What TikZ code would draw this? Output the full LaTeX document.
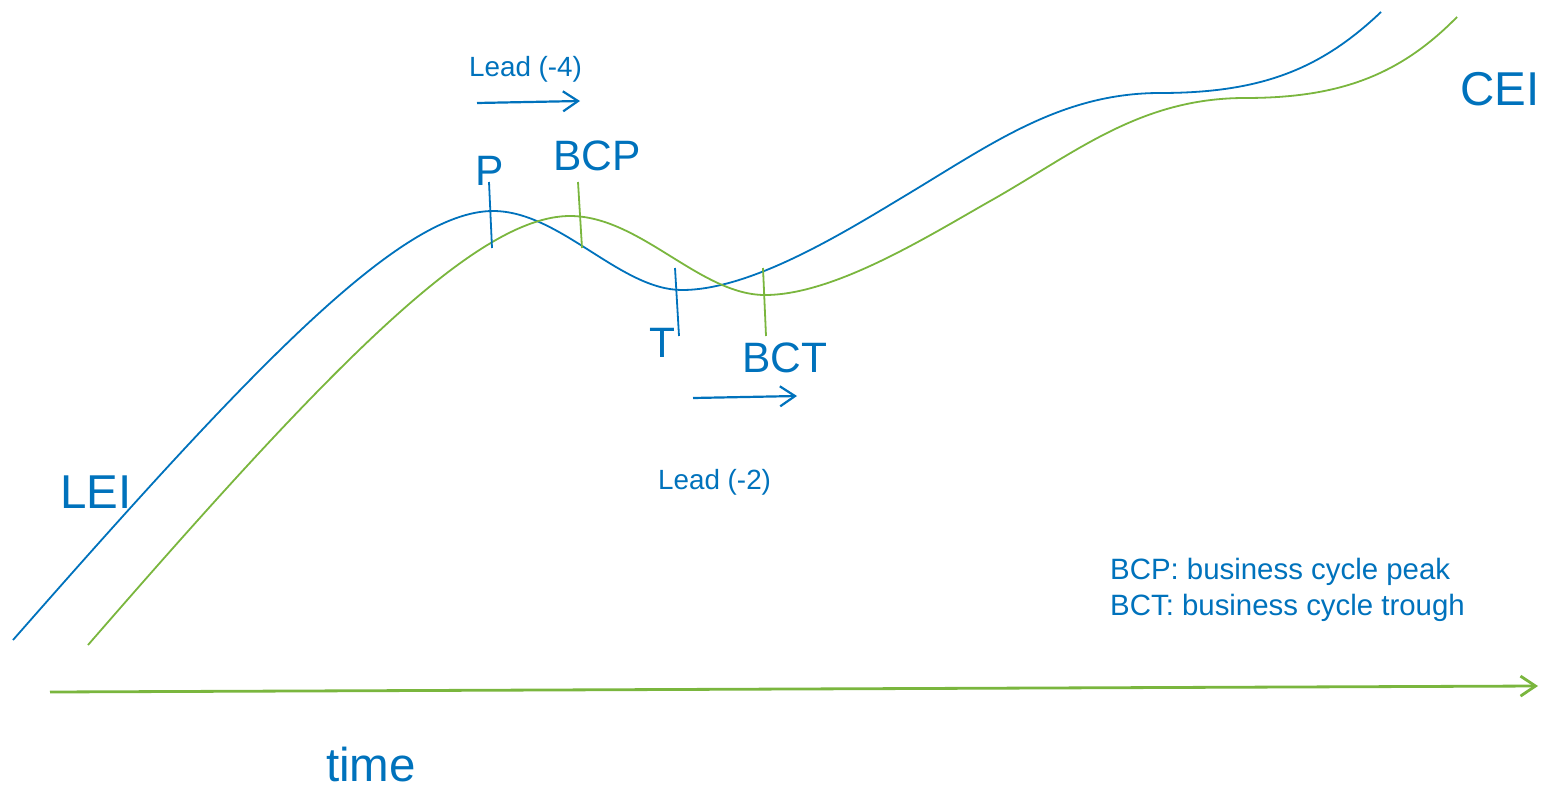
\documentclass[tikz,border=0pt]{standalone}
\usepackage{fontspec}
\setmainfont{Liberation Sans}
\usetikzlibrary{arrows.meta}
\definecolor{ublue}{RGB}{0,114,188}
\definecolor{ugreen}{RGB}{122,182,62}
\tikzset{
  curve/.style={line width=1.8pt, line join=round},
  tick/.style={line width=1.8pt},
  leadarrow/.style={ublue, line width=2.2pt, -{Straight Barb[length=15pt, width=20pt, line width=2.2pt]}},
  axisarrow/.style={ugreen, line width=2.8pt, -{Straight Barb[length=15pt, width=20pt, line width=2.8pt]}},
  lbl/.style={ublue, inner sep=0pt, anchor=base west},
  big/.style={lbl, font=\fontsize{47.5}{56}\selectfont},
  mid/.style={lbl, font=\fontsize{42.5}{50}\selectfont},
  small/.style={lbl, font=\fontsize{27.8}{33}\selectfont},
  legend/.style={lbl, font=\fontsize{29.4}{36}\selectfont}
}
\begin{document}
\begin{tikzpicture}[x=1pt, y=-1pt]
\useasboundingbox (0,0) rectangle (1546,789);
% LEI curve (blue)
\draw[curve, ublue] (13,640) .. controls (250,370) and (400,211) .. (493,211)
  .. controls (560,211) and (620,290) .. (682,290)
  .. controls (750,290) and (840,235) .. (903,197)
  .. controls (990,145) and (1060,93) .. (1160,93)
  .. controls (1260,93) and (1320,70) .. (1381,12);
% CEI curve (green)
\draw[curve, ugreen] (88,645) .. controls (325,372) and (475,216) .. (570,216)
  .. controls (640,216) and (700,295) .. (765,295)
  .. controls (835,295) and (930,235) .. (992,200)
  .. controls (1075,153) and (1140,98) .. (1245,98)
  .. controls (1340,98) and (1400,75) .. (1457,17);
% ticks
\coordinate (pA) at (489,182); \coordinate (pB) at (492,248);
\coordinate (bcpA) at (578,182); \coordinate (bcpB) at (582,248);
\coordinate (tA) at (675,268); \coordinate (tB) at (679,336);
\coordinate (bctA) at (763,268); \coordinate (bctB) at (766,336);
\draw[tick, ublue] (pA) -- (pB);
\draw[tick, ugreen] (bcpA) -- (bcpB);
\draw[tick, ublue] (tA) -- (tB);
\draw[tick, ugreen] (bctA) -- (bctB);
% lead arrows
\coordinate (l4s) at (477,103); \coordinate (l4e) at (580,101);
\coordinate (l2s) at (693,398); \coordinate (l2e) at (797,396);
\draw[leadarrow] (l4s) -- (l4e);
\draw[leadarrow] (l2s) -- (l2e);
% time axis
\coordinate (ts) at (50,692); \coordinate (te) at (1538,686);
\draw[axisarrow] (ts) -- (te);
% labels
\node[small] (lead4) at (469,77) {Lead (-4)};
\node[small] (lead2) at (658,489) {Lead (-2)};
\node[mid] (P) at (475,185) {P};
\node[mid] (BCP) at (553,170) {BCP};
\node[mid] (T) at (649,357) {T};
\node[mid] (BCT) at (742,372) {BCT};
\node[big] (LEI) at (60,508) {LEI};
\node[big] (CEI) at (1460,106) {CEI};
\node[big] (time) at (326,781) {time};
\node[legend] (leg1) at (1110,579) {BCP: business cycle peak};
\node[legend] (leg2) at (1110,615) {BCT: business cycle trough};
\end{tikzpicture}
\end{document}
